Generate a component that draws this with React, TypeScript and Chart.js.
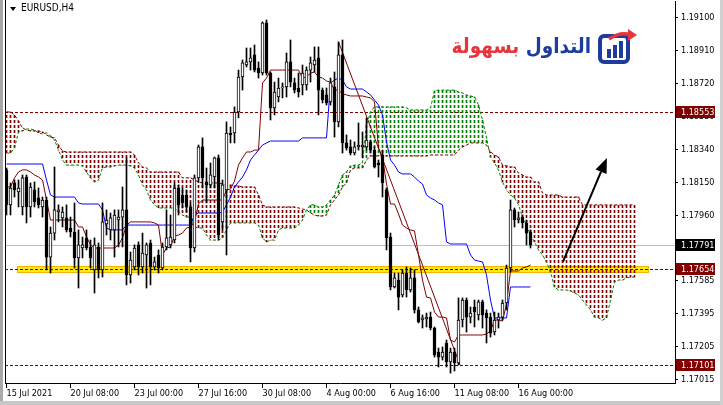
import React, { useEffect, useRef } from 'react';
import { Chart, registerables } from 'chart.js';

Chart.register(...registerables);

// ---------- data (EURUSD H4, bar index 0 = first visible bar) ----------
const OPEN = [1.18222,1.18021,1.18147,1.18095,1.18009,1.18181,1.18009,1.18107,1.18061,1.18009,
 1.18049,1.17721,1.17859,1.17980,1.17946,1.17946,1.17888,1.17865,1.17716,1.17773,
 1.17831,1.17779,1.17647,1.17779,1.17647,1.17911,1.17877,1.17877,1.17934,1.17951,
 1.17992,1.17618,1.17664,1.17791,1.17664,1.17733,1.17802,1.17664,1.17733,1.17658,
 1.17779,1.17791,1.17819,1.18118,1.18078,1.18078,1.18009,1.17773,1.18176,1.18354,
 1.18153,1.18136,1.18181,1.18291,1.17923,1.18107,1.18434,1.18434,1.18555,1.18756,
 1.18825,1.18843,1.18883,1.18808,1.18779,1.19067,1.18779,1.18578,1.18641,1.18693,
 1.18699,1.18843,1.18722,1.18693,1.18710,1.18710,1.18796,1.18825,1.18866,1.18681,
 1.18653,1.18613,1.18699,1.18498,1.18883,1.18377,1.18354,1.18319,1.18354,1.18354,
 1.18354,1.18383,1.18336,1.18262,1.18308,1.18107,1.17836,1.17549,1.17589,1.17503,
 1.17629,1.17532,1.17601,1.17417,1.17359,1.17365,1.17376,1.17313,1.17175,1.17146,
 1.17227,1.17118,1.17175,1.17112,1.17359,1.17474,1.17376,1.17434,1.17388,1.17463,
 1.17399,1.17376,1.17290,1.17359,1.17376,1.17457,1.17658,1.17992,1.17934,1.17951,
 1.17917,1.17865];

const HIGH = [1.18233,1.18147,1.18164,1.18164,1.18193,1.18193,1.18147,1.18153,1.18118,1.18066,
 1.18066,1.17894,1.18239,1.18021,1.18009,1.18021,1.17951,1.18032,1.17877,1.17836,
 1.17877,1.17819,1.17831,1.17802,1.18032,1.17992,1.17974,1.17992,1.17992,1.18124,
 1.18291,1.17750,1.17791,1.17808,1.17859,1.17802,1.17819,1.17721,1.17762,1.17802,
 1.17992,1.17963,1.18147,1.18136,1.18118,1.18107,1.18032,1.18193,1.18365,1.18406,
 1.18233,1.18262,1.18296,1.18308,1.18164,1.18498,1.18469,1.18584,1.18796,1.18854,
 1.18923,1.18923,1.18940,1.18843,1.19073,1.19084,1.18785,1.18727,1.18750,1.18722,
 1.18894,1.18969,1.18750,1.18779,1.18825,1.18814,1.18871,1.18929,1.18929,1.18693,
 1.18693,1.18750,1.18785,1.18958,1.18969,1.18423,1.18394,1.18383,1.18492,1.18440,
 1.18521,1.18394,1.18354,1.18279,1.18336,1.18118,1.17859,1.17629,1.17629,1.17647,
 1.17664,1.17658,1.17647,1.17434,1.17388,1.17399,1.17405,1.17319,1.17198,1.17204,
 1.17244,1.17198,1.17198,1.17486,1.17486,1.17486,1.17434,1.17474,1.17474,1.17474,
 1.17417,1.17399,1.17405,1.17399,1.17474,1.17675,1.18049,1.18003,1.17980,1.17963,
 1.17934,1.17877];

const LOW = [1.17963,1.17963,1.18066,1.18009,1.17963,1.17917,1.17951,1.18009,1.18003,1.17951,
 1.17647,1.17629,1.17819,1.17923,1.17894,1.17865,1.17836,1.17658,1.17543,1.17716,
 1.17762,1.17658,1.17514,1.17601,1.17606,1.17848,1.17819,1.17721,1.17779,1.17779,
 1.17561,1.17572,1.17647,1.17618,1.17629,1.17543,1.17561,1.17647,1.17629,1.17647,
 1.17762,1.17773,1.17802,1.17963,1.18003,1.17980,1.17693,1.17750,1.18153,1.18118,
 1.18032,1.18118,1.18118,1.17819,1.17877,1.17733,1.18377,1.18377,1.18521,1.18681,
 1.18814,1.18796,1.18785,1.18750,1.18768,1.18768,1.18509,1.18538,1.18613,1.18636,
 1.18641,1.18699,1.18664,1.18641,1.18653,1.18681,1.18727,1.18785,1.18538,1.18607,
 1.18595,1.18595,1.18411,1.18469,1.18319,1.18336,1.18308,1.18308,1.18336,1.18291,
 1.18336,1.18319,1.18233,1.18181,1.18066,1.17762,1.17532,1.17543,1.17417,1.17491,
 1.17491,1.17520,1.17399,1.17342,1.17313,1.17319,1.17302,1.17146,1.17089,1.17129,
 1.17089,1.17054,1.17066,1.17100,1.17319,1.17290,1.17342,1.17319,1.17359,1.17313,
 1.17227,1.17261,1.17273,1.17313,1.17359,1.17417,1.17635,1.17894,1.17917,1.17888,
 1.17791,1.17773];

const CLOSE = [1.18021,1.18118,1.18107,1.18118,1.18176,1.18009,1.18124,1.18038,1.18021,1.18049,
 1.17721,1.17859,1.17992,1.17992,1.17980,1.17877,1.17865,1.17716,1.17791,1.17791,
 1.17773,1.17716,1.17791,1.17647,1.17923,1.17934,1.17946,1.17963,1.17951,1.17992,
 1.17618,1.17704,1.17773,1.17664,1.17744,1.17791,1.17664,1.17693,1.17658,1.17779,
 1.17831,1.17836,1.18118,1.18021,1.18032,1.18009,1.17773,1.18176,1.18354,1.18176,
 1.18136,1.18193,1.18291,1.17848,1.18136,1.18434,1.18423,1.18555,1.18756,1.18837,
 1.18843,1.18866,1.18796,1.18779,1.19067,1.18779,1.18578,1.18670,1.18693,1.18699,
 1.18843,1.18727,1.18681,1.18670,1.18779,1.18796,1.18837,1.18854,1.18681,1.18624,
 1.18607,1.18722,1.18498,1.18883,1.18377,1.18348,1.18319,1.18354,1.18365,1.18365,
 1.18394,1.18336,1.18239,1.18250,1.18147,1.17831,1.17549,1.17601,1.17491,1.17629,
 1.17532,1.17601,1.17417,1.17348,1.17371,1.17376,1.17313,1.17158,1.17146,1.17175,
 1.17118,1.17175,1.17112,1.17359,1.17474,1.17376,1.17399,1.17405,1.17463,1.17388,
 1.17371,1.17284,1.17359,1.17376,1.17457,1.17658,1.17992,1.17934,1.17946,1.17917,
 1.17859,1.17791];

const TENKAN = [1.18124,1.18124,1.18176,1.18210,1.18222,1.18222,1.18210,1.18193,1.18181,1.18164,
 1.18049,1.17934,1.17934,1.17934,1.17934,1.17934,1.17934,1.17934,1.17894,1.17894,
 1.17836,1.17791,1.17773,1.17773,1.17773,1.17773,1.17773,1.17773,1.17791,1.17831,
 1.17905,1.17923,1.17923,1.17923,1.17923,1.17923,1.17923,1.17917,1.17905,1.17733,
 1.17773,1.17779,1.17842,1.17848,1.17859,1.17888,1.17894,1.17923,1.18026,1.18049,
 1.18049,1.18049,1.18049,1.18049,1.18049,1.18107,1.18112,1.18158,1.18250,1.18291,
 1.18325,1.18325,1.18336,1.18336,1.18722,1.18750,1.18796,1.18796,1.18796,1.18796,
 1.18796,1.18796,1.18796,1.18796,1.18750,1.18756,1.18779,1.18785,1.18756,1.18750,
 1.18733,1.18727,1.18681,1.18681,1.18659,1.18653,1.18647,1.18647,1.18647,1.18647,
 1.18641,1.18636,1.18613,1.18348,1.18296,1.18141,1.18026,1.18026,1.17969,1.17905,
 1.17888,1.17877,1.17871,1.17733,1.17589,1.17491,1.17486,1.17405,1.17376,1.17376,
 1.17371,1.17244,1.17233,1.17273,1.17273,1.17273,1.17273,1.17273,1.17273,1.17273,
 1.17279,1.17296,1.17359,1.17359,1.17353,1.17451,1.17641,1.17641,1.17641,1.17658,
 1.17664,1.17675];

const KIJUN = [1.18256,1.18256,1.18256,1.18256,1.18256,1.18256,1.18256,1.18256,1.18256,1.18256,
 1.18164,1.18078,1.18066,1.18066,1.18066,1.18066,1.18066,1.18066,1.18032,1.18026,
 1.18026,1.18026,1.18026,1.18026,1.17992,1.17888,1.17877,1.17877,1.17877,1.17877,
 1.17905,1.17905,1.17905,1.17905,1.17905,1.17905,1.17905,1.17905,1.17905,1.17905,
 1.17905,1.17905,1.17905,1.17905,1.17905,1.17905,1.17905,1.17963,1.17974,1.17974,
 1.17974,1.17974,1.17974,1.17974,1.17980,1.18021,1.18066,1.18124,1.18153,1.18181,
 1.18222,1.18279,1.18308,1.18336,1.18365,1.18377,1.18388,1.18388,1.18388,1.18388,
 1.18388,1.18388,1.18388,1.18388,1.18406,1.18406,1.18406,1.18406,1.18406,1.18406,
 1.18406,1.18722,1.18739,1.18750,1.18739,1.18699,1.18687,1.18687,1.18687,1.18687,
 1.18670,1.18653,1.18624,1.18595,1.18538,1.18383,1.18279,1.18250,1.18210,1.18199,
 1.18199,1.18199,1.18181,1.18158,1.18141,1.18078,1.18061,1.18049,1.18032,1.18021,
 1.17808,1.17796,1.17796,1.17796,1.17796,1.17796,1.17733,1.17704,1.17698,1.17693,
 1.17618,1.17474,1.17371,1.17371,1.17371,1.17371,1.17549,1.17549,1.17549,1.17549,
 1.17549,1.17549];

const SPAN_A = [1.18319,1.18319,1.18348,1.18440,1.18446,1.18457,1.18457,1.18452,1.18434,1.18429,
 1.18434,1.18417,1.18394,1.18336,1.18279,1.18250,1.18250,1.18250,1.18250,1.18245,
 1.18210,1.18176,1.18153,1.18164,1.18233,1.18239,1.18239,1.18245,1.18250,1.18250,
 1.18250,1.18245,1.18233,1.18193,1.18136,1.18107,1.18049,1.18021,1.18003,1.18003,
 1.18003,1.18003,1.18003,1.17980,1.17963,1.17951,1.17951,1.17894,1.17888,1.17888,
 1.17848,1.17819,1.17819,1.17819,1.17831,1.17877,1.17917,1.17917,1.17917,1.17917,
 1.17917,1.17917,1.17917,1.17905,1.17831,1.17808,1.17819,1.17819,1.17877,1.17888,
 1.17888,1.17888,1.17888,1.17905,1.17934,1.17992,1.18021,1.18021,1.18009,1.18009,
 1.18021,1.18049,1.18078,1.18136,1.18193,1.18210,1.18245,1.18250,1.18250,1.18262,
 1.18480,1.18555,1.18584,1.18584,1.18584,1.18584,1.18584,1.18584,1.18584,1.18584,
 1.18578,1.18567,1.18567,1.18567,1.18567,1.18567,1.18578,1.18676,1.18681,1.18681,
 1.18681,1.18681,1.18681,1.18670,1.18664,1.18653,1.18647,1.18641,1.18595,1.18509,
 1.18406,1.18296,1.18262,1.18222,1.18153,1.18107,1.18078,1.18061,1.18021,1.17951,
 1.17905,1.17848,1.17808,1.17762,1.17733,1.17693,1.17635,1.17549,1.17532,1.17532,
 1.17532,1.17526,1.17514,1.17503,1.17474,1.17445,1.17417,1.17376,1.17371,1.17359,
 1.17371,1.17474,1.17578,1.17589,1.17589,1.17601,1.17606,1.17606];

const SPAN_B = [1.18555,1.18555,1.18538,1.18503,1.18463,1.18452,1.18446,1.18446,1.18446,1.18440,
 1.18423,1.18411,1.18406,1.18365,1.18331,1.18325,1.18325,1.18325,1.18325,1.18325,
 1.18325,1.18325,1.18325,1.18325,1.18325,1.18325,1.18325,1.18325,1.18325,1.18325,
 1.18325,1.18325,1.18308,1.18262,1.18239,1.18233,1.18210,1.18210,1.18210,1.18210,
 1.18210,1.18210,1.18210,1.18210,1.18176,1.18176,1.18176,1.18164,1.18153,1.18147,
 1.18147,1.18147,1.18147,1.18147,1.18141,1.18136,1.18136,1.18130,1.18130,1.18124,
 1.18124,1.18124,1.18124,1.18078,1.18021,1.18009,1.18009,1.18009,1.18009,1.18009,
 1.18009,1.18009,1.18009,1.18003,1.17997,1.17992,1.17974,1.17963,1.17957,1.17957,
 1.17963,1.18021,1.18049,1.18078,1.18124,1.18147,1.18222,1.18233,1.18233,1.18233,
 1.18279,1.18302,1.18302,1.18302,1.18302,1.18302,1.18302,1.18302,1.18302,1.18302,
 1.18302,1.18302,1.18302,1.18302,1.18302,1.18302,1.18308,1.18308,1.18308,1.18308,
 1.18308,1.18308,1.18308,1.18336,1.18354,1.18365,1.18377,1.18377,1.18377,1.18377,
 1.18365,1.18325,1.18308,1.18296,1.18250,1.18245,1.18239,1.18239,1.18204,1.18193,
 1.18181,1.18181,1.18153,1.18153,1.18089,1.18078,1.18078,1.18078,1.18078,1.18066,
 1.18066,1.18066,1.18066,1.18066,1.18021,1.18021,1.18021,1.18021,1.18021,1.18021,
 1.18021,1.18021,1.18021,1.18021,1.18021,1.18021,1.18021,1.18021];

const X_TICK_BARS = [0, 16, 32, 48, 64, 80, 96, 112, 128];
const X_TICK_LABELS = ['15 Jul 2021', '20 Jul 08:00', '23 Jul 00:00', '27 Jul 16:00', '30 Jul 08:00',
  '4 Aug 00:00', '6 Aug 16:00', '11 Aug 08:00', '16 Aug 00:00'];
const Y_TICKS = [1.19100, 1.18910, 1.18720, 1.18530, 1.18340, 1.18150, 1.17960, 1.17775,
  1.17585, 1.17395, 1.17205, 1.17015];

const LEVELS = [1.18553, 1.17654, 1.17101];
const BID = 1.17791;
const ZONE_PRICES = [1.17669, 1.17629];
const ZONE_BARS = [2.6, 160.6];
const TREND_BARS = [83, 113.4];
const TREND_PRICES = [1.18958, 1.17100];
const ARROW_BARS = [139.1, 150.1];
const ARROW_PRICES = [1.17693, 1.18291];

const MAROON = '#800000';
const GREEN = '#008000';
const BLUE = '#0000ff';
const AXIS_FONT = '"DejaVu Sans Condensed", "DejaVu Sans", sans-serif';

function makePattern(color: string): any {
  const c = document.createElement('canvas');
  c.width = 1;
  c.height = 5;
  const g = c.getContext('2d');
  if (!g) return color;
  g.fillStyle = color;
  g.fillRect(0, 0, 1, 3);
  return g.createPattern(c, 'repeat') || color;
}

const overlayPlugin = {
  id: 'mt4overlay',
  beforeDatasetsDraw(chart: any) {
    const { ctx, chartArea: a, scales } = chart;
    const x = scales.x, y = scales.y;
    ctx.save();
    ctx.beginPath();
    ctx.rect(a.left, a.top, a.right - a.left, a.bottom - a.top);
    ctx.clip();
    // yellow support zone
    const zx1 = Math.round(x.getPixelForValue(ZONE_BARS[0]));
    const zx2 = Math.round(x.getPixelForValue(ZONE_BARS[1]));
    const zy1 = Math.round(y.getPixelForValue(ZONE_PRICES[0]));
    const zy2 = Math.round(y.getPixelForValue(ZONE_PRICES[1]));
    ctx.fillStyle = '#ffe817';
    ctx.fillRect(zx1, zy1, zx2 - zx1, zy2 - zy1);
    ctx.strokeStyle = '#f2b600';
    ctx.lineWidth = 1;
    ctx.strokeRect(zx1 + 0.5, zy1 + 0.5, zx2 - zx1 - 1, zy2 - zy1 - 1);
    // bid line
    const by = Math.round(y.getPixelForValue(BID)) + 0.5;
    ctx.strokeStyle = '#c0c0c0';
    ctx.beginPath();
    ctx.moveTo(a.left, by);
    ctx.lineTo(a.right, by);
    ctx.stroke();
    // horizontal levels
    ctx.setLineDash([3, 2]);
    ctx.strokeStyle = MAROON;
    for (const lv of LEVELS) {
      const ly = Math.round(y.getPixelForValue(lv)) + 0.5;
      ctx.beginPath();
      ctx.moveTo(a.left, ly);
      ctx.lineTo(a.right, ly);
      ctx.stroke();
    }
    ctx.restore();
  },
  afterDatasetsDraw(chart: any) {
    const { ctx, chartArea: a, scales } = chart;
    const x = scales.x, y = scales.y;
    ctx.save();
    // arrow
    const x1 = x.getPixelForValue(ARROW_BARS[0]), y1 = y.getPixelForValue(ARROW_PRICES[0]);
    const x2 = x.getPixelForValue(ARROW_BARS[1]), y2 = y.getPixelForValue(ARROW_PRICES[1]);
    const ang = Math.atan2(y2 - y1, x2 - x1);
    const hl = 15, hw = 6;
    const bx = x2 - hl * Math.cos(ang), byy = y2 - hl * Math.sin(ang);
    ctx.strokeStyle = '#000';
    ctx.lineWidth = 2;
    ctx.beginPath();
    ctx.moveTo(x1, y1);
    ctx.lineTo(bx, byy);
    ctx.stroke();
    ctx.fillStyle = '#000';
    ctx.beginPath();
    ctx.moveTo(x2, y2);
    ctx.lineTo(bx + hw * Math.sin(ang), byy - hw * Math.cos(ang));
    ctx.lineTo(bx - hw * Math.sin(ang), byy + hw * Math.cos(ang));
    ctx.closePath();
    ctx.fill();
    // left frame line
    ctx.lineWidth = 1;
    ctx.beginPath();
    ctx.moveTo(a.left + 0.5, 0);
    ctx.lineTo(a.left + 0.5, a.bottom);
    ctx.stroke();
    ctx.restore();
  },
  afterDraw(chart: any) {
    const { ctx, chartArea: a, scales } = chart;
    const y = scales.y;
    const marks: [number, string][] = [[LEVELS[0], MAROON], [BID, '#000000'], [LEVELS[1], MAROON], [LEVELS[2], MAROON]];
    ctx.save();
    ctx.font = '9px ' + AXIS_FONT;
    ctx.textBaseline = 'middle';
    ctx.textAlign = 'left';
    for (const [p, bg] of marks) {
      const py = Math.round(y.getPixelForValue(p));
      ctx.fillStyle = bg;
      ctx.fillRect(a.right + 1, py - 6, 39, 12);
      ctx.fillStyle = '#ffffff';
      ctx.fillText(p.toFixed(5), a.right + 6, py + 0.5);
    }
    ctx.restore();
  },
};

export default function App() {
  const ref = useRef<HTMLCanvasElement>(null);

  useEffect(() => {
    document.body.style.margin = '0';
    const canvas = ref.current;
    if (!canvas) return;
    const redPat = makePattern(MAROON);
    const greenPat = makePattern(GREEN);

    const chart = new Chart(canvas, {
      type: 'bar',
      data: {
        datasets: [
          {
            type: 'bar',
            data: OPEN.map((o, i) => ({ x: i, y: [o, CLOSE[i]] })) as any,
            backgroundColor: (c: any) => (CLOSE[c.dataIndex] >= OPEN[c.dataIndex] ? '#ffffff' : '#000000'),
            borderColor: '#000000',
            borderWidth: 1,
            borderSkipped: false,
            barThickness: 3,
            grouped: false,
            order: 0,
          } as any,
          {
            type: 'bar',
            data: HIGH.map((h, i) => ({ x: i, y: [LOW[i], h] })) as any,
            backgroundColor: '#000000',
            borderWidth: 0,
            barThickness: 1,
            grouped: false,
            order: 1,
          } as any,
          {
            type: 'line',
            data: TENKAN.map((v, i) => ({ x: i, y: v })),
            borderColor: MAROON,
            borderWidth: 1,
            pointRadius: 0,
            tension: 0,
            order: 2,
          } as any,
          {
            type: 'line',
            data: KIJUN.map((v, i) => ({ x: i, y: v })),
            borderColor: BLUE,
            borderWidth: 1,
            pointRadius: 0,
            tension: 0,
            order: 2,
          } as any,
          {
            type: 'line',
            data: TREND_BARS.map((b, i) => ({ x: b, y: TREND_PRICES[i] })),
            borderColor: MAROON,
            borderWidth: 1,
            pointRadius: 0,
            order: 2,
          } as any,
          {
            type: 'line',
            data: SPAN_A.map((v, i) => ({ x: i, y: v })),
            borderColor: GREEN,
            borderWidth: 1,
            borderDash: [3, 2],
            pointRadius: 0,
            tension: 0,
            order: 4,
          } as any,
          {
            type: 'line',
            data: SPAN_B.map((v, i) => ({ x: i, y: v })),
            borderColor: MAROON,
            borderWidth: 1,
            borderDash: [3, 2],
            pointRadius: 0,
            tension: 0,
            order: 4,
          } as any,
          {
            type: 'bar',
            data: SPAN_A.map((v, i) => ({ x: i, y: [v, SPAN_B[i]] })) as any,
            backgroundColor: (c: any) => (SPAN_A[c.dataIndex] >= SPAN_B[c.dataIndex] ? greenPat : redPat),
            borderWidth: 0,
            barThickness: 1,
            grouped: false,
            order: 6,
          } as any,
        ],
      },
      options: {
        responsive: false,
        animation: false,
        devicePixelRatio: 1,
        events: [],
        layout: { padding: { left: 5, top: 1, right: 0, bottom: 0 }, autoPadding: false } as any,
        plugins: { legend: { display: false }, tooltip: { enabled: false } },
        scales: {
          x: {
            type: 'linear',
            min: -0.375,
            max: 167.125,
            bounds: 'data',
            offset: false,
            afterBuildTicks: (s: any) => {
              s.ticks = X_TICK_BARS.map((v) => ({ value: v }));
            },
            afterFit: (s: any) => {
              s.height = 22;
              s.paddingLeft = 0;
              s.paddingRight = 0;
            },
            ticks: {
              autoSkip: false,
              maxRotation: 0,
              minRotation: 0,
              align: 'start',
              padding: 0,
              color: '#000',
              font: { family: AXIS_FONT, size: 9 },
              callback: (_v: any, i: number) => X_TICK_LABELS[i] ?? '',
            },
            grid: { drawOnChartArea: false, drawTicks: true, tickLength: 5, color: '#000', offset: false },
            border: { display: true, color: '#000' },
          } as any,
          y: {
            type: 'linear',
            position: 'right',
            min: 1.16997,
            max: 1.19193,
            bounds: 'data',
            afterBuildTicks: (s: any) => {
              s.ticks = Y_TICKS.map((v) => ({ value: v }));
            },
            afterFit: (s: any) => {
              s.width = 48;
              s.paddingTop = 0;
              s.paddingBottom = 0;
            },
            ticks: {
              color: '#000',
              padding: 3,
              font: { family: AXIS_FONT, size: 9 },
              callback: (v: any) => Number(v).toFixed(5),
            },
            grid: { drawOnChartArea: false, drawTicks: true, tickLength: 3, color: '#000' },
            border: { display: true, color: '#000' },
          } as any,
        },
      },
      plugins: [overlayPlugin],
    });
    return () => chart.destroy();
  }, []);

  return (
    <div style={{ position: 'fixed', left: 0, top: 0, width: 723, height: 405, background: '#ffffff', overflow: 'hidden' }}>
      <canvas ref={ref} width={723} height={405} style={{ position: 'absolute', left: 0, top: 0, width: 723, height: 405 }} />
      {/* window frame strips */}
      <div style={{ position: 'absolute', left: 0, top: 0, width: 3, height: 405, background: '#a8a8a8' }} />
      <div style={{ position: 'absolute', left: 0, top: 401, width: 723, height: 4, background: '#c8c8c8' }} />
      <div style={{ position: 'absolute', left: 720, top: 0, width: 3, height: 405, background: '#d0d0d0' }} />
      {/* symbol caption */}
      <div style={{ position: 'absolute', left: 10, top: 7, width: 0, height: 0, borderLeft: '3px solid transparent', borderRight: '3px solid transparent', borderTop: '4px solid #000' }} />
      <div style={{ position: 'absolute', left: 21, top: 2, fontFamily: AXIS_FONT, fontSize: 10, lineHeight: '12px', color: '#000' }}>EURUSD,H4</div>
      {/* logo */}
      <div dir="rtl" style={{ position: 'absolute', left: 430, top: 32, width: 161, textAlign: 'right', fontFamily: '"DejaVu Sans", sans-serif', fontWeight: 'bold', fontSize: 21, lineHeight: '28px', whiteSpace: 'nowrap', transform: 'scaleX(0.88)', transformOrigin: '100% 50%' }}>
        <span style={{ color: '#1e3c9e' }}>التداول</span> <span style={{ color: '#e8343c' }}>بسهولة</span>
      </div>
      <svg style={{ position: 'absolute', left: 597, top: 27 }} width="42" height="38" viewBox="0 0 42 38">
        <rect x="3" y="9" width="28" height="26" rx="4" fill="none" stroke="#1e3c9e" strokeWidth="4" />
        <rect x="10" y="22" width="4" height="9" fill="#1e3c9e" />
        <rect x="16" y="18" width="4" height="13" fill="#1e3c9e" />
        <rect x="22" y="14" width="4" height="17" fill="#1e3c9e" />
        <path d="M 12 12 Q 24 4 34 8" stroke="#e8343c" strokeWidth="3.5" fill="none" />
        <polygon points="31,2 40,8 31,14" fill="#e8343c" />
      </svg>
    </div>
  );
}
